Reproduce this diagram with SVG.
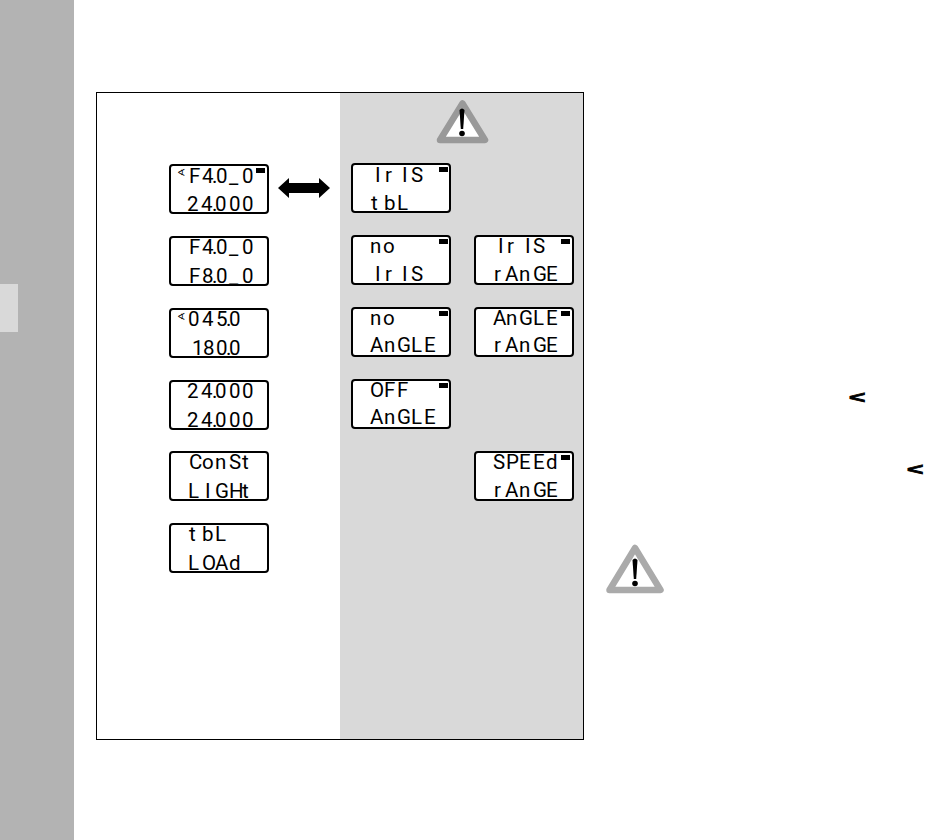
<svg xmlns="http://www.w3.org/2000/svg" width="925" height="840" viewBox="0 0 925 840">
<style>
.lcd{fill:#fff;stroke:#000;stroke-width:2}
.ind{fill:#000}
.t{font-family:Roboto,"Liberation Sans",sans-serif;font-weight:400;font-size:20.5px;fill:#000;white-space:pre}
.ang{font-family:"DejaVu Sans",sans-serif;font-size:10px;fill:#000}
.lt{font-family:"Liberation Sans",sans-serif;font-weight:700;font-size:20px;fill:#000;stroke:#000;stroke-width:1}
.tri{stroke-width:6.500;stroke-linejoin:round;fill:#fff}
</style>
<defs>
<rect id="box" x="0" y="0" width="98" height="48" rx="3" class="lcd"/>
<g id="excl"><path d="M-2.500 -21Q0 -24 2.500 -21L1.200 -2H-1.200Z" fill="#000"/><circle cx="0" cy="2.500" r="2.800" fill="#000"/></g>
</defs>
<rect x="0" y="0" width="74" height="840" fill="#b3b3b3"/>
<rect x="0" y="284" width="18" height="48" fill="#d9d9d9"/>
<g id="panel">
<rect x="96.500" y="92.500" width="487" height="647" fill="#fff"/>
<rect x="340" y="92.500" width="243.500" height="647" fill="#d9d9d9"/>
<rect x="96.500" y="92.500" width="487" height="647" fill="none" stroke="#000" stroke-width="1"/>
</g>
<g id="warning-panel">
<path d="M462.500 103.500L485 140H440Z" class="tri" stroke="#999"/>
<use href="#excl" x="462" y="131"/>
</g>
<g id="warning-side">
<path d="M635 548L660.500 590H609.500Z" class="tri" stroke="#aaa"/>
<use href="#excl" x="635" y="581"/>
</g>
<g id="connectors">
<path d="M278 188L289 178V183H319V178L330 188L319 198V193H289V198Z" fill="#000"/>
</g>
<g id="d1"><use href="#box" x="170" y="165"/><rect class="ind" x="256" y="168" width="9" height="5"/>
<text class="ang" x="177" y="176">∢</text>
<text class="t" x="189 202 212 216 229 242" y="183">F4.0_0</text>
<text class="t" x="187 201 212 215 229 242" y="211">24.000</text></g>
<g id="d2"><use href="#box" x="170" y="237"/>
<text class="t" x="189 202 212 216 229 242" y="254">F4.0_0</text>
<text class="t" x="189 202 212 216 229 242" y="283">F8.0_0</text></g>
<g id="d3"><use href="#box" x="170" y="309"/>
<text class="ang" x="177" y="320">∢</text>
<text class="t" x="188 202 216 226 229" y="326">045.0</text>
<text class="t" x="192 203 216 226 229" y="355">180.0</text></g>
<g id="d4"><use href="#box" x="170" y="381"/>
<text class="t" x="187 201 212 215 229 242" y="398">24.000</text>
<text class="t" x="187 201 212 215 229 242" y="427">24.000</text></g>
<g id="d5"><use href="#box" x="170" y="452"/>
<text class="t" x="189 202 215 229 242" y="469">ConSt</text>
<text class="t" x="188 205 215 229 242" y="498">LIGHt</text></g>
<g id="d6"><use href="#box" x="170" y="524"/>
<text class="t" x="189 202 215" y="541">tbL</text>
<text class="t" x="188 202 215 229" y="570">LOAd</text></g>
<g id="d7"><use href="#box" x="352" y="164"/><rect class="ind" x="439" y="167" width="9" height="5"/>
<text class="t" x="375 385 398 402 411" y="182">Ir IS</text>
<text class="t" x="371 384 397" y="210">tbL</text></g>
<g id="d8"><use href="#box" x="352" y="236"/><rect class="ind" x="439" y="239" width="9" height="5"/>
<text class="t" x="370 383" y="253">no</text>
<text class="t" x="375 385 398 402 411" y="281">Ir IS</text></g>
<g id="d9"><use href="#box" x="352" y="308"/><rect class="ind" x="439" y="311" width="9" height="5"/>
<text class="t" x="370 383" y="325">no</text>
<text class="t" x="370 384 397 411 424" y="352">AnGLE</text></g>
<g id="d10"><use href="#box" x="352" y="380"/><rect class="ind" x="439" y="383" width="9" height="5"/>
<text class="t" x="370 384 397" y="397">OFF</text>
<text class="t" x="370 384 397 411 424" y="424">AnGLE</text></g>
<g id="d11"><use href="#box" x="475" y="236"/><rect class="ind" x="561" y="239" width="9" height="5"/>
<text class="t" x="498 507 521 525 533" y="253">Ir IS</text>
<text class="t" x="494 505 519 533 546" y="281">rAnGE</text></g>
<g id="d12"><use href="#box" x="475" y="308"/><rect class="ind" x="561" y="311" width="9" height="5"/>
<text class="t" x="493 506 519 533 546" y="325">AnGLE</text>
<text class="t" x="494 505 519 533 546" y="352">rAnGE</text></g>
<g id="d13"><use href="#box" x="475" y="452"/><rect class="ind" x="561" y="455" width="9" height="5"/>
<text class="t" x="493 506 519 533 546" y="469">SPEEd</text>
<text class="t" x="494 505 519 533 546" y="497">rAnGE</text></g>
<text class="lt" transform="translate(849 402.500) scale(1.400 .800)">&lt;</text>
<text class="lt" transform="translate(907 474.500) scale(1.400 .800)">&lt;</text>
</svg>
